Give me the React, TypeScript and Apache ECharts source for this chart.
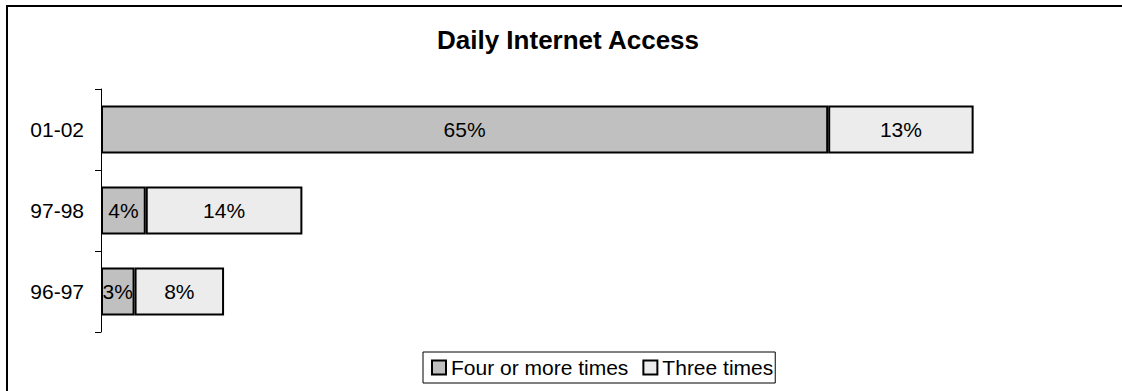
import React, { useEffect, useRef } from "react";
import * as echarts from "echarts";

const categories = ["96-97", "97-98", "01-02"];
const fourOrMore = [3, 4, 65];
const threeTimes = [8, 14, 13];
const seriesNames = ["Four or more times", "Three times"];
const titleText = "Daily Internet Access";

const FONT = "'Liberation Sans', Arial, sans-serif";

export default function App() {
  const ref = useRef<HTMLDivElement>(null);
  useEffect(() => {
    if (!ref.current) return;
    const chart = echarts.init(ref.current, null, { renderer: "svg" });
    const label = {
      show: true,
      position: "inside",
      color: "#000",
      fontSize: 21,
      fontFamily: FONT,
      formatter: (p: any) => `${p.value}%`,
    };
    chart.setOption({
      animation: false,
      backgroundColor: "#fff",
      title: {
        text: titleText,
        left: 432,
        top: 22,
        textStyle: { fontSize: 26, fontWeight: "bold", color: "#000", fontFamily: FONT },
      },
      graphic: [
        {
          type: "rect",
          shape: { x: 7, y: 6, width: 1130, height: 400 },
          style: { fill: "none", stroke: "#000", lineWidth: 2 },
          silent: true,
          z: -1,
        },
      ],
      legend: {
        data: seriesNames,
        left: 423,
        top: 352,
        orient: "horizontal",
        padding: [5, 2, 5, 8],
        itemWidth: 14,
        itemHeight: 14,
        itemGap: 14,
        icon: "rect",
        borderColor: "#000",
        borderWidth: 1,
        textStyle: { fontSize: 21, color: "#000", fontFamily: FONT },
      },
      grid: { left: 101, right: 126, top: 89, bottom: 59, containLabel: false },
      xAxis: {
        type: "value",
        min: 0,
        max: 80,
        show: false,
      },
      yAxis: {
        type: "category",
        data: categories,
        axisLine: { show: true, lineStyle: { color: "#000", width: 1 } },
        axisTick: { show: true, length: 6, lineStyle: { color: "#000" } },
        axisLabel: { color: "#000", fontSize: 21, fontFamily: FONT, margin: 17 },
        splitLine: { show: false },
      },
      series: [
        {
          name: seriesNames[0],
          type: "bar",
          stack: "total",
          barWidth: 48,
          data: fourOrMore,
          itemStyle: { color: "#C0C0C0", borderColor: "#000", borderWidth: 2 },
          label,
        },
        {
          name: seriesNames[1],
          type: "bar",
          stack: "total",
          barWidth: 48,
          data: threeTimes,
          itemStyle: { color: "#ECECEC", borderColor: "#000", borderWidth: 2 },
          label,
        },
      ],
    });
    return () => chart.dispose();
  }, []);
  return (
    <div
      ref={ref}
      style={{ position: "absolute", left: 0, top: 0, width: 1122, height: 391 }}
    />
  );
}
